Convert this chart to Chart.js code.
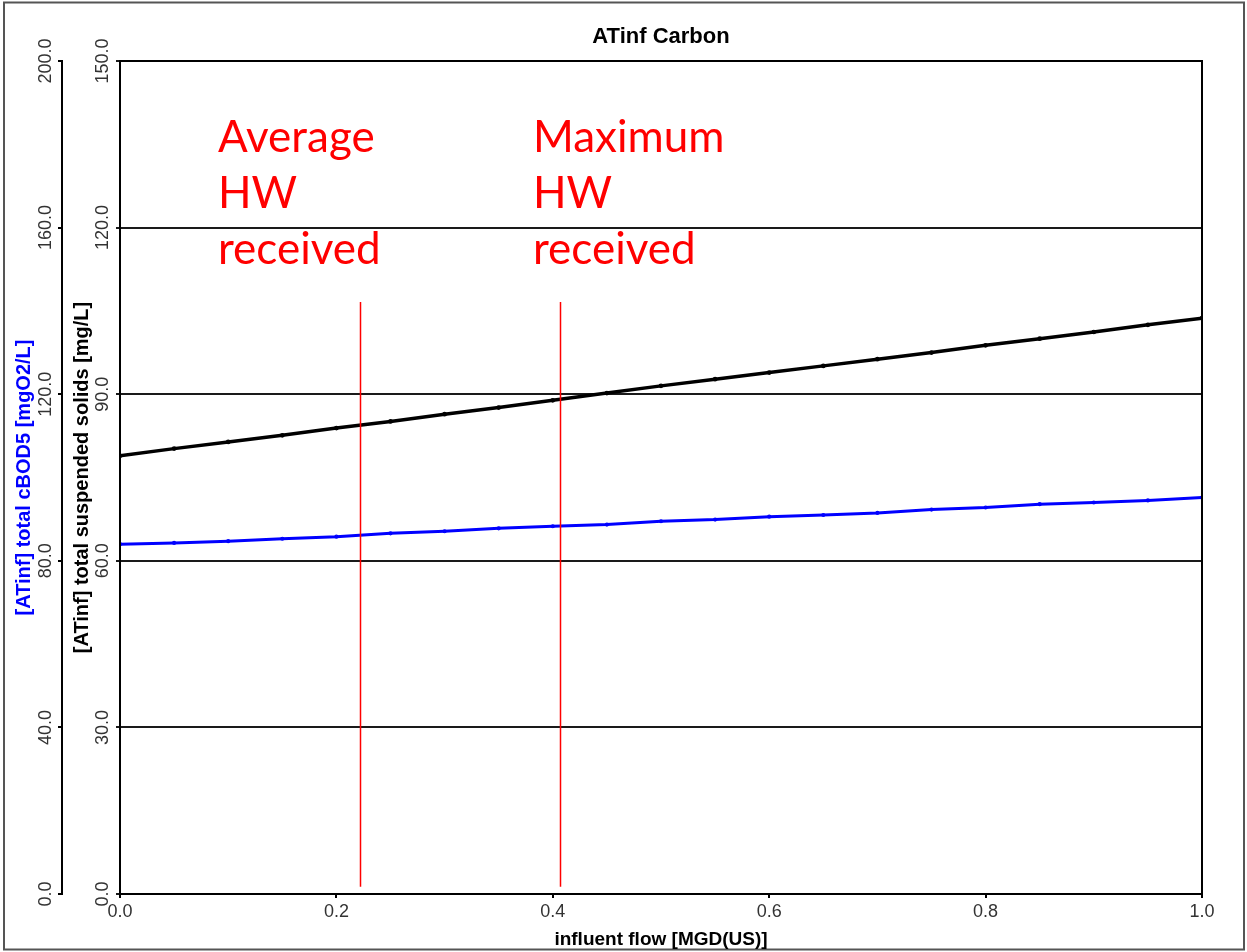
<!DOCTYPE html>
<html>
<head>
<meta charset="utf-8">
<title>ATinf Carbon</title>
<script src="https://cdn.jsdelivr.net/npm/chart.js@4/dist/chart.umd.min.js"></script>
<style>
  html, body { margin: 0; padding: 0; background: #fff; }
  canvas { display: block; }
</style>
</head>
<body>
<canvas id="chart" width="1247" height="952"></canvas>
<script>
// influent flow [MGD(US)], one point every 0.05
const flow = [0.0, 0.05, 0.1, 0.15, 0.2, 0.25, 0.3, 0.35, 0.4, 0.45, 0.5,
              0.55, 0.6, 0.65, 0.7, 0.75, 0.8, 0.85, 0.9, 0.95, 1.0];

// [ATinf] total suspended solids [mg/L]  (inner axis, 0-150)
const tss = [78.9, 80.2, 81.4, 82.6, 83.9, 85.1, 86.4, 87.6, 88.9, 90.2, 91.5,
             92.7, 93.9, 95.1, 96.3, 97.5, 98.8, 100.0, 101.2, 102.5, 103.7];

// [ATinf] total cBOD5 [mgO2/L]  (outer axis, 0-200)
const bod = [84.0, 84.3, 84.7, 85.3, 85.8, 86.6, 87.1, 87.8, 88.3, 88.7, 89.5,
             89.9, 90.6, 91.0, 91.5, 92.3, 92.8, 93.6, 94.0, 94.5, 95.2];

// red markers drawn over the chart (flow values + TSS span)
const markerFlows = [0.222, 0.407];
const markerTop = 106.6;
const markerBottom = 1.3;
const markerTexts = [
  ['Average', 'HW', 'received'],
  ['Maximum', 'HW', 'received']
];
const markerTextX = [218, 533];

Chart.defaults.font.family = '"Liberation Sans", Arial, sans-serif';

const toPoints = ys => flow.map((x, i) => ({ x: x, y: ys[i] }));

// frame round the picture, box round the plot, red annotations
const decorations = {
  id: 'decorations',
  beforeDraw(chart) {
    const ctx = chart.ctx;
    ctx.save();
    ctx.fillStyle = '#fff';
    ctx.fillRect(0, 0, chart.width, chart.height);
    ctx.strokeStyle = '#555';
    ctx.lineWidth = 2;
    ctx.strokeRect(4, 2.5, 1240, 947);
    ctx.restore();
  },
  afterDraw(chart) {
    const ctx = chart.ctx;
    const a = chart.chartArea;
    const xs = chart.scales.x;
    const ys = chart.scales.y;
    ctx.save();
    ctx.strokeStyle = '#000';
    ctx.lineWidth = 2;
    ctx.strokeRect(a.left, a.top, a.right - a.left, a.bottom - a.top);

    ctx.strokeStyle = '#ff0000';
    ctx.lineWidth = 1.5;
    markerFlows.forEach(f => {
      const px = Math.round(xs.getPixelForValue(f)) + 0.5;
      ctx.beginPath();
      ctx.moveTo(px, ys.getPixelForValue(markerTop));
      ctx.lineTo(px, ys.getPixelForValue(markerBottom));
      ctx.stroke();
    });

    ctx.fillStyle = '#ff0000';
    ctx.font = '44px Lato, "Liberation Sans", sans-serif';
    ctx.textBaseline = 'alphabetic';
    markerTexts.forEach((lines, i) => {
      lines.forEach((t, j) => {
        ctx.fillText(t, markerTextX[i], 152 + j * 56);
      });
    });
    ctx.restore();
  }
};

new Chart(document.getElementById('chart'), {
  type: 'line',
  data: {
    datasets: [
      {
        label: '[ATinf] total suspended solids [mg/L]',
        data: toPoints(tss),
        yAxisID: 'y',
        borderColor: '#000',
        backgroundColor: '#000',
        borderWidth: 3.5,
        pointRadius: 0.6,
        tension: 0
      },
      {
        label: '[ATinf] total cBOD5 [mgO2/L]',
        data: toPoints(bod),
        yAxisID: 'y1',
        borderColor: '#0000ff',
        backgroundColor: '#0000ff',
        borderWidth: 3,
        pointRadius: 0.6,
        tension: 0
      }
    ]
  },
  options: {
    responsive: false,
    animation: false,
    devicePixelRatio: 1,
    layout: { padding: { left: 0, top: 0, right: 45, bottom: 0 } },
    plugins: {
      legend: { display: false },
      tooltip: { enabled: false },
      title: {
        display: true,
        text: 'ATinf Carbon',
        fullSize: false,
        color: '#000',
        font: { size: 22, weight: 'bold' },
        padding: { top: 23.8, bottom: 10.8 }
      }
    },
    scales: {
      x: {
        type: 'linear',
        position: 'bottom',
        min: 0,
        max: 1,
        afterFit: s => { s.height = 58; },
        ticks: {
          stepSize: 0.2,
          color: '#333',
          font: { size: 18 },
          padding: 3,
          callback: v => v.toFixed(1)
        },
        grid: { drawOnChartArea: false, drawTicks: true, tickLength: 4, color: '#000', lineWidth: 2 },
        border: { display: true, color: '#000', width: 2 },
        title: {
          display: true,
          text: 'influent flow [MGD(US)]',
          color: '#000',
          font: { size: 19, weight: 'bold' },
          padding: { top: 0, bottom: 1 }
        }
      },
      y: {
        position: 'left',
        weight: 0,
        min: 0,
        max: 150,
        afterFit: s => { s.width = 58; },
        ticks: {
          stepSize: 30,
          minRotation: 90,
          maxRotation: 90,
          crossAlign: 'center',
          padding: -10,
          color: '#333',
          font: { size: 18 },
          callback: v => v.toFixed(1)
        },
        grid: { color: '#1a1a1a', lineWidth: 2, tickLength: 4, drawTicks: true },
        border: { display: true, color: '#000', width: 2 },
        title: {
          display: true,
          text: '[ATinf] total suspended solids [mg/L]',
          color: '#000',
          font: { size: 20, weight: 'bold' },
          padding: { top: 8, bottom: 0 }
        }
      },
      y1: {
        position: 'left',
        weight: 1,
        min: 0,
        max: 200,
        afterFit: s => { s.width = 62; },
        ticks: {
          stepSize: 40,
          minRotation: 90,
          maxRotation: 90,
          crossAlign: 'center',
          padding: -10.5,
          color: '#333',
          font: { size: 18 },
          callback: v => v.toFixed(1)
        },
        grid: { drawOnChartArea: false, drawTicks: true, tickLength: 4, color: '#000', lineWidth: 2 },
        border: { display: true, color: '#000', width: 2 },
        title: {
          display: true,
          text: '[ATinf] total cBOD5 [mgO2/L]',
          color: '#0000ff',
          font: { size: 20, weight: 'bold' },
          padding: { top: 12, bottom: 0 }
        }
      }
    }
  },
  plugins: [decorations]
});
</script>
</body>
</html>
